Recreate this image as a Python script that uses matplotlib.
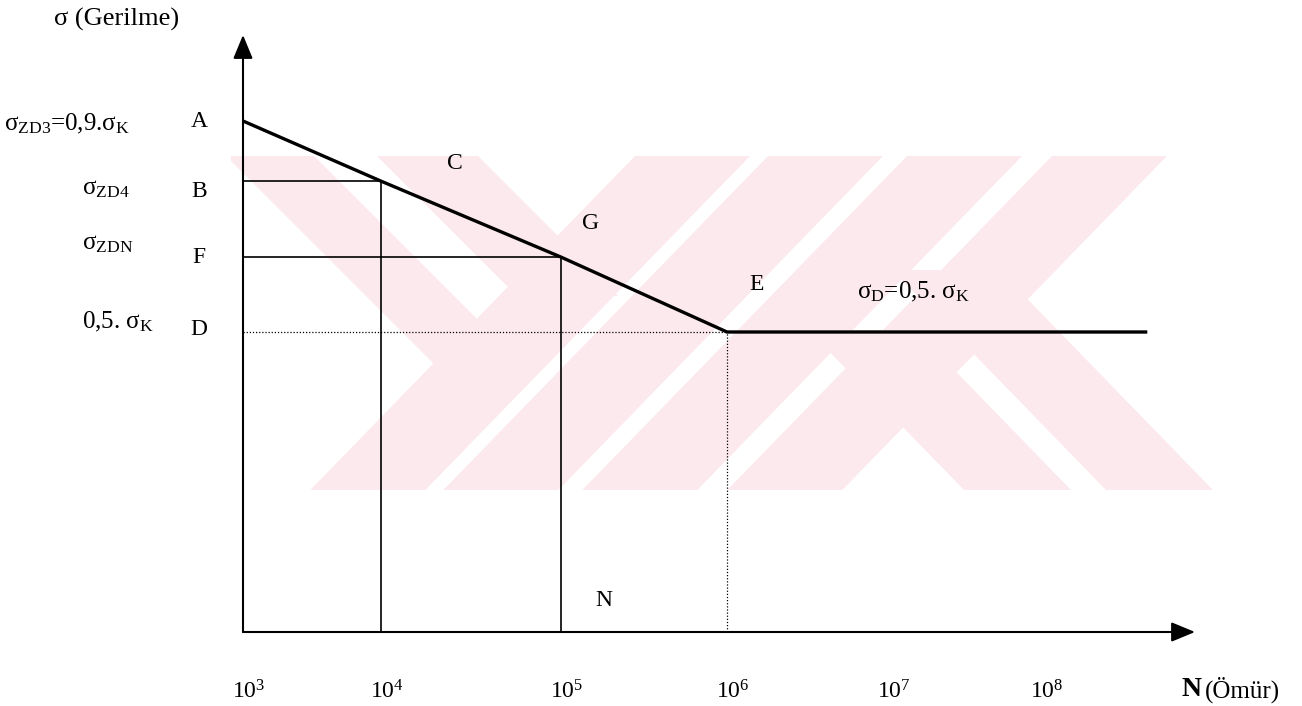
import numpy as np
import matplotlib
matplotlib.use("Agg")
import matplotlib.pyplot as plt
from matplotlib.patches import Polygon, Rectangle
from matplotlib.transforms import ScaledTranslation

plt.rcParams["font.family"] = ["Liberation Serif", "DejaVu Serif"]
plt.rcParams["mathtext.fontset"] = "custom"
plt.rcParams["mathtext.rm"] = "Liberation Serif"
plt.rcParams["mathtext.it"] = "Liberation Serif:italic"
plt.rcParams["mathtext.bf"] = "Liberation Serif:bold"

# ---------------- data ----------------
tick_decades = [3, 4, 5, 6, 7, 8]
tick_labels = [r"$\mathregular{10^{3}}$", r"$\mathregular{10^{4}}$", r"$\mathregular{10^{5}}$",
               r"$\mathregular{10^{6}}$", r"$\mathregular{10^{7}}$", r"$\mathregular{10^{8}}$"]

# S-N curve points A, C, G, E and end of endurance plateau (stress as fraction of sigma_K)
curve_N = [1e3, 1e4, 1e5, 1e6, 4.9e8]
curve_S = [0.90, 0.786, 0.642, 0.50, 0.50]
point_names = ["A", "C", "G", "E"]

# level labels on the stress axis
level_letters = ["A", "B", "F", "D"]
level_S = [0.90, 0.786, 0.642, 0.50]
level_texts = [r"$\mathregular{σ_{ZD3}}$=0,9.$\mathregular{σ_{K}}$",
               r"$\mathregular{σ_{ZD4}}$",
               r"$\mathregular{σ_{ZDN}}$",
               r"0,5. $\mathregular{σ_{K}}$"]

# ---------------- figure ----------------
W, H, DPI = 1302, 706, 100
fig = plt.figure(figsize=(W / DPI, H / DPI), dpi=DPI)
PT = 72.0 / DPI  # pixel -> point

# watermark (background logo)
wax = fig.add_axes([0, 0, 1, 1], zorder=0)
wax.set_xlim(0, W)
wax.set_ylim(H, 0)
wax.axis("off")
wm_color = "#fce9ed"
clip = Rectangle((231, 156), 984, 334, transform=wax.transData)
s = 0.972
polys = []
for x0 in [635, 768, 907, 1052]:
    polys.append([(x0, 156), (x0 + 115, 156), (x0 + 115 - s * 334, 490), (x0 - s * 334, 490)])
for x0, yt in [(964, 330), (1106, 270)]:
    polys.append([(x0 - s * (490 - yt), yt), (x0 + 107 - s * (490 - yt), yt), (x0 + 107, 490), (x0, 490)])
for x0, w, yb in [(226, 88, 375), (377, 101, 296)]:
    polys.append([(x0, 156), (x0 + w, 156), (x0 + w + (yb - 156), yb), (x0 + (yb - 156), yb)])
for p in polys:
    patch = Polygon(p, closed=True, facecolor=wm_color, edgecolor="none")
    wax.add_patch(patch)
    patch.set_clip_path(clip)

# main axes
x_left, x_right, y_axis, y_top = 243, 1195, 632, 35
ax = fig.add_axes([x_left / W, (H - y_axis) / H, (x_right - x_left) / W, (y_axis - y_top) / H], zorder=1)
ax.patch.set_alpha(0)

LOG_KNOTS = [2, 3, 4, 5, 6, 7, 8, 9]
POS_KNOTS = [105, 243, 381, 561, 727, 888, 1041, 1195]


def fwd(x):
    x = np.asarray(x, dtype=float)
    return np.interp(np.log10(np.clip(x, 1e-12, None)), LOG_KNOTS, POS_KNOTS)


def inv(p):
    return 10.0 ** np.interp(np.asarray(p, dtype=float), POS_KNOTS, LOG_KNOTS)


ax.set_xscale("function", functions=(fwd, inv))
ax.set_xlim(1e3, float(inv(x_right)))
Y_MIN, Y_MAX = -0.0687, 1.063
ax.set_ylim(Y_MIN, Y_MAX)

for sp in ax.spines.values():
    sp.set_visible(False)
ax.set_yticks([])
ax.set_xticks([10.0 ** d for d in tick_decades])
ax.set_xticklabels(tick_labels, fontsize=17)
ax.tick_params(axis="x", length=0, pad=35)
for lbl in ax.get_xticklabels():
    lbl.set_transform(lbl.get_transform() + ScaledTranslation(6 / DPI, 0, fig.dpi_scale_trans))

# axis arrows
arrow_kw = dict(arrowstyle="-|>,head_length=1.45,head_width=0.6", lw=1.5, color="black",
                shrinkA=0, shrinkB=0)
ax.annotate("", xy=(0, 1), xytext=(0, 0), xycoords="axes fraction", arrowprops=arrow_kw)
ax.annotate("", xy=(1, 0), xytext=(0, 0), xycoords="axes fraction", arrowprops=arrow_kw)

# S-N curve
ax.plot(curve_N, curve_S, color="black", lw=2.4, solid_capstyle="butt", solid_joinstyle="miter", zorder=5)

# construction lines for C (B level) and G (F level)
for i in [1, 2]:
    ax.plot([curve_N[0], curve_N[i]], [curve_S[i], curve_S[i]], color="black", lw=1.2)
    ax.plot([curve_N[i], curve_N[i]], [Y_MIN, curve_S[i]], color="black", lw=1.2)
# dotted lines for E (D level)
ax.plot([curve_N[0], curve_N[3]], [curve_S[3], curve_S[3]], color="black", lw=0.9, ls=(0, (1, 1.5)))
ax.plot([curve_N[3], curve_N[3]], [Y_MIN, curve_S[3]], color="black", lw=0.9, ls=(0, (1, 1.5)))

FS_LETTER = 17
FS_LABEL = 18
# letters on the stress axis
letter_dy = [-1, -10, 0, 2]
for name, sv, dy in zip(level_letters, level_S, letter_dy):
    ax.annotate(name, xy=(curve_N[0], sv), xytext=(-44 * PT, dy * PT), textcoords="offset points",
                ha="center", va="center", fontsize=FS_LETTER)
# level texts on the far left
text_dx = [-239, -161, -161, -161]
text_dy = [-3, -8, 13, 10]
for t, sv, dx, dy in zip(level_texts, level_S, text_dx, text_dy):
    ax.annotate(t, xy=(curve_N[0], sv), xytext=(dx * PT, dy * PT), textcoords="offset points",
                ha="left", va="center", fontsize=FS_LABEL)

# point labels on the curve
pt_off = {"C": (74, 18), "G": (30, 34), "E": (30, 47)}
for name, n, sv in zip(point_names, curve_N, curve_S):
    if name in pt_off:
        dx, dy = pt_off[name]
        ax.annotate(name, xy=(n, sv), xytext=(dx * PT, dy * PT), textcoords="offset points",
                    ha="center", va="center", fontsize=FS_LETTER)
ax.annotate(r"$\mathregular{σ_{D}}$=0,5. $\mathregular{σ_{K}}$", xy=(curve_N[3], curve_S[3]),
            xytext=(186 * PT, 40 * PT), textcoords="offset points", ha="center", va="center",
            fontsize=FS_LABEL)
ax.annotate("N", xy=(curve_N[2], Y_MIN), xytext=(43 * PT, 32 * PT), textcoords="offset points",
            ha="center", va="center", fontsize=FS_LETTER)

# axis titles
ax.annotate("σ (Gerilme)", xy=(0, 1), xycoords="axes fraction", xytext=(-126 * PT, 16 * PT),
            textcoords="offset points", ha="center", va="center", fontsize=19)
ax.annotate("N", xy=(1, 0), xycoords="axes fraction", xytext=(-3 * PT, -58 * PT),
            textcoords="offset points", ha="center", va="center", fontsize=20, fontweight="bold")
ax.annotate("(Ömür)", xy=(1, 0), xycoords="axes fraction", xytext=(10 * PT, -58 * PT),
            textcoords="offset points", ha="left", va="center", fontsize=18)

fig.savefig("out.png", dpi=DPI)
